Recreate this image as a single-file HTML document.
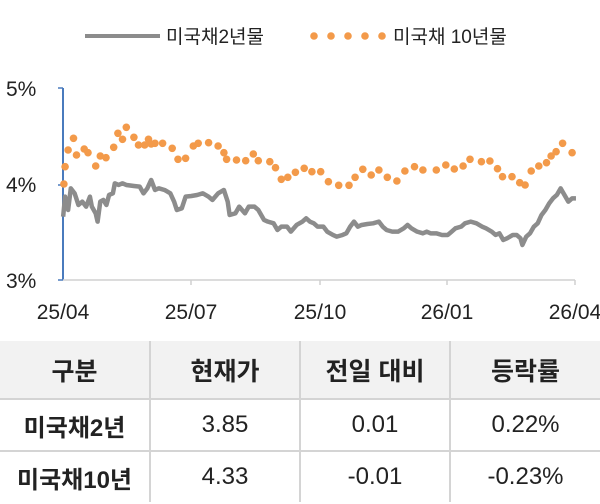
<!DOCTYPE html>
<html><head><meta charset="utf-8"><style>
body{margin:0;width:600px;height:504px;background:#fff;font-family:"Liberation Sans","Noto Sans CJK KR",sans-serif;overflow:hidden;position:relative}
svg{position:absolute;left:0;top:0}
table{position:absolute;left:0;top:341px;width:600px;border-collapse:collapse;table-layout:fixed}
td{text-align:center;color:#222;border-top:2px solid #d4d4d4;padding:0}
td+td{border-left:2px solid #d4d4d4}
tr.h td{background:#f2f2f2;font-size:25px;font-weight:bold;height:57px;border-top:none}
tr.r td{font-size:24px;height:50px}
tr.r td:first-child{font-weight:bold}
</style></head><body>
<svg width="600" height="340" viewBox="0 0 600 340">
<line x1="85" y1="36" x2="160" y2="36" stroke="#8c8c8c" stroke-width="4"/>
<text x="166" y="43" font-size="19" fill="#222" font-family="Liberation Sans, Noto Sans CJK KR, sans-serif">미국채2년물</text>
<g fill="#f39a4a"><circle cx="314" cy="36" r="3.8"/><circle cx="331" cy="36" r="3.8"/><circle cx="348" cy="36" r="3.8"/><circle cx="365" cy="36" r="3.8"/><circle cx="382" cy="36" r="3.8"/></g>
<text x="393" y="43" font-size="19" fill="#222" font-family="Liberation Sans, Noto Sans CJK KR, sans-serif">미국채 10년물</text>
<g font-size="21" fill="#222" font-family="Liberation Sans, Noto Sans CJK KR, sans-serif">
<text x="6" y="96">5%</text><text x="6" y="192">4%</text><text x="6" y="288">3%</text>
<text x="63" y="319" text-anchor="middle">25/04</text><text x="191" y="319" text-anchor="middle">25/07</text><text x="320" y="319" text-anchor="middle">25/10</text><text x="447" y="319" text-anchor="middle">26/01</text><text x="575" y="319" text-anchor="middle">26/04</text>
</g>
<line x1="63" y1="88" x2="63" y2="280" stroke="#4a7bbd" stroke-width="2"/>
<line x1="63" y1="280" x2="575" y2="280" stroke="#d0d0d0" stroke-width="1.5"/>
<g stroke="#4a7bbd" stroke-width="1.5"><line x1="58" y1="88" x2="63" y2="88"/><line x1="58" y1="185" x2="63" y2="185"/><line x1="58" y1="280" x2="63" y2="280"/></g>
<g stroke="#d0d0d0" stroke-width="1.5"><line x1="191" y1="280" x2="191" y2="285"/><line x1="320" y1="280" x2="320" y2="285"/><line x1="447" y1="280" x2="447" y2="285"/><line x1="575" y1="280" x2="575" y2="285"/></g>
<g transform="translate(0,70) scale(0.3827,0.3333)">
<polyline fill="none" stroke="#8c8c8c" stroke-width="4.5" vector-effect="non-scaling-stroke" stroke-linejoin="round" points="165,440 170,380 178,420 185,355 195,370 205,405 215,395 225,410 235,380 240,410 250,430 255,455 262,395 270,390 278,405 285,375 295,370 300,340 310,345 320,340 330,345 350,348 365,350 375,370 385,355 395,330 405,360 415,355 430,360 445,370 455,395 462,420 475,415 485,380 500,378 515,375 530,370 545,380 555,390 570,370 585,360 595,395 600,435 615,430 625,410 640,430 650,410 665,410 675,420 690,450 700,455 715,460 725,480 735,470 750,470 760,485 775,465 790,455 800,445 810,455 820,460 830,470 845,470 855,485 870,495 880,500 895,495 905,490 915,470 925,455 935,470 945,465 960,462 975,460 990,455 1000,470 1010,480 1025,485 1040,485 1055,475 1065,465 1075,475 1090,485 1105,490 1115,485 1125,490 1140,490 1155,495 1170,495 1180,485 1190,475 1205,470 1215,460 1230,455 1245,460 1260,470 1270,475 1285,485 1295,495 1305,490 1315,510 1325,505 1340,495 1350,495 1360,505 1365,525 1375,500 1385,490 1395,470 1405,460 1415,435 1425,420 1435,400 1445,385 1455,375 1465,355 1475,375 1485,395 1495,385 1505,385"/>
</g>
<g fill="#f39a4a">
<circle cx="63.9" cy="184" r="3.8"/><circle cx="65.1" cy="166.7" r="3.8"/><circle cx="68.1" cy="150" r="3.8"/><circle cx="73.5" cy="138.3" r="3.8"/><circle cx="76.5" cy="155" r="3.8"/><circle cx="84.2" cy="149" r="3.8"/><circle cx="88" cy="152.7" r="3.8"/><circle cx="95.7" cy="166" r="3.8"/><circle cx="100.3" cy="156" r="3.8"/><circle cx="106" cy="157.7" r="3.8"/><circle cx="113.7" cy="147.3" r="3.8"/><circle cx="117.9" cy="133.3" r="3.8"/><circle cx="122.5" cy="139.3" r="3.8"/><circle cx="126.3" cy="127.3" r="3.8"/><circle cx="133.9" cy="137.3" r="3.8"/><circle cx="138.5" cy="145" r="3.8"/><circle cx="144.7" cy="145" r="3.8"/><circle cx="148.5" cy="139.3" r="3.8"/><circle cx="151.2" cy="144" r="3.8"/><circle cx="155" cy="143.3" r="3.8"/><circle cx="162.6" cy="143.3" r="3.8"/><circle cx="172.2" cy="148.3" r="3.8"/><circle cx="178" cy="159.3" r="3.8"/><circle cx="185.6" cy="158.3" r="3.8"/><circle cx="193.3" cy="146" r="3.8"/><circle cx="198.2" cy="143.3" r="3.8"/><circle cx="208.6" cy="142.7" r="3.8"/><circle cx="218.1" cy="146" r="3.8"/><circle cx="223.9" cy="152.7" r="3.8"/><circle cx="226.6" cy="159.3" r="3.8"/><circle cx="236.5" cy="160" r="3.8"/><circle cx="245.7" cy="160.7" r="3.8"/><circle cx="253.3" cy="154" r="3.8"/><circle cx="258.3" cy="160.7" r="3.8"/><circle cx="269.8" cy="161.7" r="3.8"/><circle cx="275.5" cy="167.7" r="3.8"/><circle cx="281.3" cy="179.3" r="3.8"/><circle cx="287.8" cy="177.3" r="3.8"/><circle cx="295.4" cy="172.3" r="3.8"/><circle cx="304.2" cy="168.3" r="3.8"/><circle cx="311.9" cy="171.7" r="3.8"/><circle cx="320.7" cy="171.7" r="3.8"/><circle cx="328.4" cy="181.7" r="3.8"/><circle cx="338.7" cy="185.3" r="3.8"/><circle cx="349" cy="185.3" r="3.8"/><circle cx="355.1" cy="177.3" r="3.8"/><circle cx="362.8" cy="169.3" r="3.8"/><circle cx="371.2" cy="175" r="3.8"/><circle cx="378.9" cy="170" r="3.8"/><circle cx="387.3" cy="177.3" r="3.8"/><circle cx="396.9" cy="181" r="3.8"/><circle cx="404.9" cy="171" r="3.8"/><circle cx="414.5" cy="166.7" r="3.8"/><circle cx="422.9" cy="170" r="3.8"/><circle cx="436.3" cy="170" r="3.8"/><circle cx="445.8" cy="165" r="3.8"/><circle cx="454.3" cy="169" r="3.8"/><circle cx="463.1" cy="166" r="3.8"/><circle cx="470" cy="159.3" r="3.8"/><circle cx="481.4" cy="161.7" r="3.8"/><circle cx="489.9" cy="161" r="3.8"/><circle cx="497.5" cy="168.7" r="3.8"/><circle cx="502.5" cy="176.7" r="3.8"/><circle cx="512" cy="176.7" r="3.8"/><circle cx="519.7" cy="182.7" r="3.8"/><circle cx="525.1" cy="185" r="3.8"/><circle cx="531.2" cy="171" r="3.8"/><circle cx="538.8" cy="166" r="3.8"/><circle cx="546.5" cy="162.7" r="3.8"/><circle cx="551.1" cy="156" r="3.8"/><circle cx="556.1" cy="151.7" r="3.8"/><circle cx="562.6" cy="143.3" r="3.8"/><circle cx="572.1" cy="152.7" r="3.8"/>
</g>
</svg>
<table>
<tr class="h"><td>구분</td><td>현재가</td><td>전일 대비</td><td>등락률</td></tr>
<tr class="r"><td>미국채2년</td><td>3.85</td><td>0.01</td><td>0.22%</td></tr>
<tr class="r"><td>미국채10년</td><td>4.33</td><td>-0.01</td><td>-0.23%</td></tr>
</table>
</body></html>
